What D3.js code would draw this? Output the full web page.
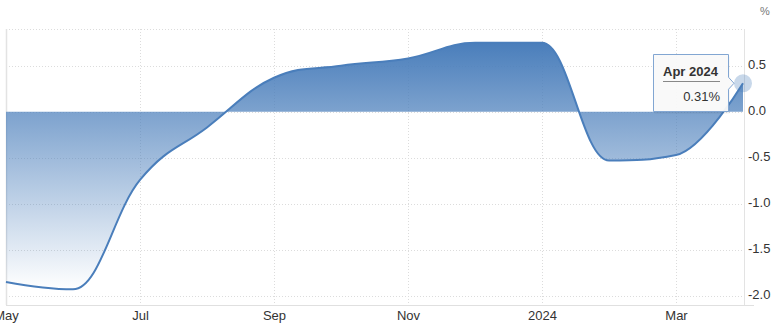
<!DOCTYPE html>
<html>
<head>
<meta charset="utf-8">
<script src="https://cdn.jsdelivr.net/npm/d3@7"></script>
<style>
  body { margin: 0; background: #fff; }
  svg { font-family: "Liberation Sans", Arial, sans-serif; }
</style>
</head>
<body>
<script>
// monthly values
var months = ["May 2023", "Jun 2023", "Jul 2023", "Aug 2023", "Sep 2023", "Oct 2023",
              "Nov 2023", "Dec 2023", "Jan 2024", "Feb 2024", "Mar 2024", "Apr 2024"];
var values = [-1.85, -1.93, -0.74, -0.17, 0.37, 0.50, 0.58, 0.75, 0.75, -0.53, -0.47, 0.31];

var xTicks = ["May 2023", "Jul 2023", "Sep 2023", "Nov 2023", "Jan 2024", "Mar 2024"];
var xTickLabels = ["May", "Jul", "Sep", "Nov", "2024", "Mar"];
var yTicks = [0.5, 0, -0.5, -1, -1.5, -2];

var width = 775, height = 331;
var plot = {left: 6, right: 744, top: 29, bottom: 305};
var blue = "#4a7ebb";

var data = months.map(function(m, i) { return {month: m, value: values[i]}; });

// spline like highcharts (smoothing 1.5, no false extremes)
function HighSpline(context) { this._context = context; }
HighSpline.prototype = {
    areaStart: function() { this._line = 0; },
    areaEnd: function() { this._line = NaN; },
    lineStart: function() { this._pts = []; },
    point: function(x, y) { this._pts.push([+x, +y]); },
    lineEnd: function() {
        var p = this._pts, n = p.length, ctx = this._context;
        if (n) {
            if (this._line) ctx.lineTo(p[0][0], p[0][1]);
            else ctx.moveTo(p[0][0], p[0][1]);
            var lc = [], rc = [];
            var s = 1.5, den = s + 1;
            for (var i = 1; i < n - 1; i++) {
                var px = p[i][0], py = p[i][1];
                var lx = p[i-1][0], ly = p[i-1][1], nx = p[i+1][0], ny = p[i+1][1];
                var lcx = (s * px + lx) / den, lcy = (s * py + ly) / den;
                var rcx = (s * px + nx) / den, rcy = (s * py + ny) / den;
                var corr = 0;
                if (rcx !== lcx) corr = (rcy - lcy) * (rcx - px) / (rcx - lcx) + py - rcy;
                lcy += corr; rcy += corr;
                if (lcy > ly && lcy > py) { lcy = Math.max(ly, py); rcy = 2 * py - lcy; }
                else if (lcy < ly && lcy < py) { lcy = Math.min(ly, py); rcy = 2 * py - lcy; }
                if (rcy > ny && rcy > py) { rcy = Math.max(ny, py); lcy = 2 * py - rcy; }
                else if (rcy < ny && rcy < py) { rcy = Math.min(ny, py); lcy = 2 * py - rcy; }
                lc[i] = [lcx, lcy]; rc[i] = [rcx, rcy];
            }
            for (var j = 1; j < n; j++) {
                var c1 = rc[j-1] || p[j-1], c2 = lc[j] || p[j];
                ctx.bezierCurveTo(c1[0], c1[1], c2[0], c2[1], p[j][0], p[j][1]);
            }
        }
        if (this._line || (this._line !== 0 && n === 1)) ctx.closePath();
        this._line = 1 - this._line;
    }
};
var curveHigh = function(context) { return new HighSpline(context); };

var svg = d3.select("body")
    .append("svg")
        .attr("width", width)
        .attr("height", height);

var x = d3.scalePoint()
    .domain(months)
    .range([plot.left, plot.right - 1]);

var y = d3.scaleLinear()
    .domain([-2.1, 0.9])
    .range([plot.bottom, plot.top]);

// grid
var grid = svg.append("g").attr("class", "grid");
grid.selectAll("line.h")
    .data(yTicks.concat([0.9]))
    .enter().append("line")
        .attr("class", "h")
        .attr("x1", plot.left).attr("x2", plot.right)
        .attr("y1", function(d) { return Math.round(y(d)) + 0.5; })
        .attr("y2", function(d) { return Math.round(y(d)) + 0.5; })
        .attr("stroke", "#dcdcdc")
        .attr("stroke-dasharray", "1,2");

grid.selectAll("line.v")
    .data(xTicks.slice(1))
    .enter().append("line")
        .attr("class", "v")
        .attr("y1", plot.top).attr("y2", plot.bottom)
        .attr("x1", function(d) { return Math.round(x(d)) + 0.5; })
        .attr("x2", function(d) { return Math.round(x(d)) + 0.5; })
        .attr("stroke", "#dcdcdc")
        .attr("stroke-dasharray", "1,2");

grid.append("line")
    .attr("x1", plot.left + 0.5).attr("x2", plot.left + 0.5)
    .attr("y1", plot.top).attr("y2", plot.bottom)
    .attr("stroke", "#e3e3e3").attr("stroke-width", 1.5);
grid.append("line")
    .attr("x1", plot.right + 0.5).attr("x2", plot.right + 0.5)
    .attr("y1", plot.top).attr("y2", plot.bottom)
    .attr("stroke", "#e3e3e3");

// gradient
var grad = svg.append("defs").append("linearGradient")
    .attr("id", "fillGrad")
    .attr("x1", 0).attr("y1", 0).attr("x2", 0).attr("y2", 1);
grad.append("stop").attr("offset", "0%").attr("stop-color", blue).attr("stop-opacity", 1);
grad.append("stop").attr("offset", "100%").attr("stop-color", blue).attr("stop-opacity", 0);

var area = d3.area()
    .x(function(d) { return x(d.month); })
    .y0(y(0))
    .y1(function(d) { return y(d.value); })
    .curve(curveHigh);

var line = d3.line()
    .x(function(d) { return x(d.month); })
    .y(function(d) { return y(d.value); })
    .curve(curveHigh);

svg.append("path")
    .datum(data)
    .attr("d", area)
    .attr("fill", "url(#fillGrad)");

svg.append("path")
    .datum(data)
    .attr("d", line)
    .attr("fill", "none")
    .attr("stroke", blue)
    .attr("stroke-width", 2);

// x axis
var bottomAxis = d3.axisBottom(x)
    .tickValues(xTicks)
    .tickSize(0)
    .tickPadding(0)
    .tickFormat(function(d) { return xTickLabels[xTicks.indexOf(d)]; });

var gx = svg.append("g")
    .attr("class", "bottom axis")
    .attr("transform", "translate(0," + plot.bottom + ")")
    .call(bottomAxis);
gx.select(".domain").remove();
gx.selectAll("text")
    .attr("y", 15)
    .attr("dy", 0)
    .attr("font-size", "13px")
    .attr("font-family", "Liberation Sans, Arial, sans-serif")
    .attr("fill", "#333");

svg.append("line")
    .attr("x1", plot.left).attr("x2", plot.right + 10)
    .attr("y1", plot.bottom + 0.5).attr("y2", plot.bottom + 0.5)
    .attr("stroke", "#e0e0e0");

// y axis on the right
var rightAxis = d3.axisRight(y)
    .tickValues(yTicks)
    .tickSize(0)
    .tickPadding(0)
    .tickFormat(function(d) { return d.toFixed(1); });

var gy = svg.append("g")
    .attr("class", "right axis")
    .attr("transform", "translate(" + (plot.right + 4) + ",0)")
    .call(rightAxis);
gy.select(".domain").remove();
gy.selectAll("text")
    .attr("dy", "0.2em")
    .attr("font-size", "13px")
    .attr("font-family", "Liberation Sans, Arial, sans-serif")
    .attr("fill", "#333");

svg.append("text")
    .attr("x", 765)
    .attr("y", 15)
    .attr("text-anchor", "middle")
    .attr("font-size", "11px")
    .attr("fill", "#777")
    .text("%");

// hover state on the last point
var last = data[data.length - 1];
var px = x(last.month), py = y(last.value);

svg.append("circle")
    .attr("cx", px).attr("cy", py)
    .attr("r", 9)
    .attr("fill", blue)
    .attr("fill-opacity", 0.3);

var bx = 653.5, bw = 75, by = 54.5, bh = 57;
var tip = svg.append("g").attr("class", "tooltip");
tip.append("path")
    .attr("d", "M" + (bx + 1) + "," + (by + 2) + "h" + bw + "v" + bh + "h" + (-bw) + "Z")
    .attr("fill", "#000").attr("fill-opacity", 0.06);
tip.append("path")
    .attr("d", "M" + bx + "," + by + "H" + (bx + bw) + "V" + (py - 6) +
               "L" + (px - 9) + "," + py + "L" + (bx + bw) + "," + (py + 6) +
               "V" + (by + bh) + "H" + bx + "Z")
    .attr("fill", "#f9f9f9")
    .attr("fill-opacity", 0.95)
    .attr("stroke", "#82a6d2")
    .attr("stroke-width", 1);
tip.append("text")
    .attr("x", 663).attr("y", 76)
    .attr("font-size", "13px")
    .attr("font-weight", "bold")
    .attr("fill", "#333")
    .text(last.month.replace(" ", "\u00a0"));
tip.append("line")
    .attr("x1", 663).attr("x2", 720)
    .attr("y1", 81.5).attr("y2", 81.5)
    .attr("stroke", "#888");
tip.append("text")
    .attr("x", 720).attr("y", 101)
    .attr("text-anchor", "end")
    .attr("font-size", "13px")
    .attr("fill", "#333")
    .text(last.value.toFixed(2) + "%");
</script>
</body>
</html>
